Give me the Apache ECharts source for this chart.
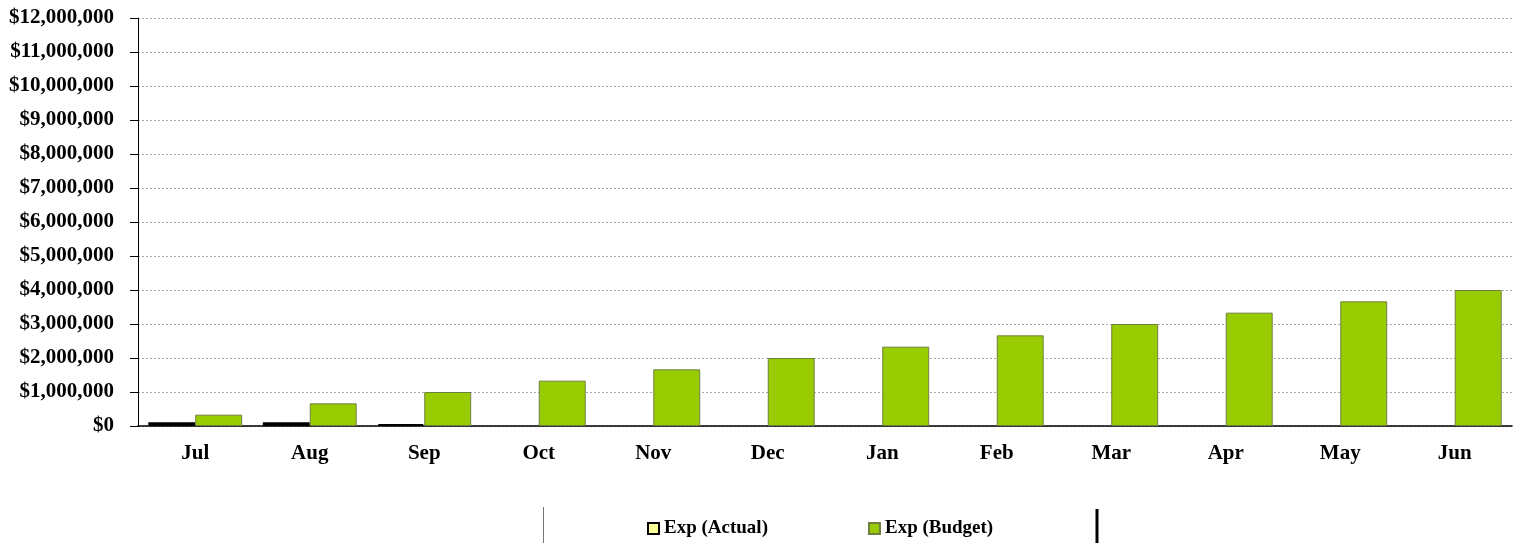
<!DOCTYPE html>
<html>
<head>
<meta charset="utf-8">
<script src="https://cdn.jsdelivr.net/npm/echarts@6/dist/echarts.min.js"></script>
<style>
  html, body { margin: 0; padding: 0; background: #fff; }
  #chart { width: 1522px; height: 543px; }
</style>
</head>
<body>
<div id="chart"></div>
<script>
const months = ['Jul', 'Aug', 'Sep', 'Oct', 'Nov', 'Dec', 'Jan', 'Feb', 'Mar', 'Apr', 'May', 'Jun']
const expActual = [110000, 110000, 55000, null, null, null, null, null, null, null, null, null]
const expBudget = [333333, 666667, 1000000, 1333333, 1666667, 2000000, 2333333, 2666667, 3000000, 3333333, 3666667, 4000000]

const font = 'Liberation Serif, Times New Roman, serif'

const chart = echarts.init(document.getElementById('chart'))

// 金额格式 $1,000,000
const money = v => '$' + v.toLocaleString('en-US')

chart.setOption({
  backgroundColor: '#fff',
  animation: false,
  grid: { left: 138, right: 10, top: 18, bottom: 117 },
  legend: {
    left: 642,
    top: 514,
    itemWidth: 11,
    itemHeight: 11,
    itemGap: 100,
    textStyle: { fontFamily: font, fontWeight: 'bold', fontSize: 19, color: '#000' },
    data: [{ name: 'Exp (Actual)', icon: 'rect' }, { name: 'Exp (Budget)', icon: 'rect' }]
  },
  xAxis: {
    type: 'category',
    data: months,
    axisLine: { lineStyle: { color: '#000', width: 1.5 } },
    axisTick: { length: 6, lineStyle: { color: '#999' } },
    axisLabel: { fontFamily: font, fontWeight: 'bold', fontSize: 21, color: '#000', margin: 17 }
  },
  yAxis: {
    type: 'value',
    min: 0, max: 12000000, interval: 1000000,
    axisLine: { show: true, lineStyle: { color: '#000' } },
    axisTick: { show: true, length: 8, lineStyle: { color: '#000' } },
    axisLabel: {
      fontFamily: font, fontWeight: 'bold', fontSize: 21, color: '#000', margin: 24,
      padding: [4, 0, 0, 0],
      formatter: money
    },
    splitLine: { lineStyle: { color: '#aaa', type: [2, 2] } }
  },
  series: [
    {
      name: 'Exp (Actual)',
      type: 'bar',
      data: expActual,
      barGap: '0%',
      barCategoryGap: '18%',
      itemStyle: { color: '#FFFF99', borderColor: '#000', borderWidth: 2 }
    },
    {
      name: 'Exp (Budget)',
      type: 'bar',
      data: expBudget,
      itemStyle: { color: '#99CC00', borderColor: '#6f7f40', borderWidth: 1 }
    }
  ],
  graphic: [
    { type: 'line', shape: { x1: 543.5, y1: 507, x2: 543.5, y2: 543 }, style: { stroke: '#777', lineWidth: 1 } },
    { type: 'line', shape: { x1: 1097, y1: 509, x2: 1097, y2: 543 }, style: { stroke: '#000', lineWidth: 3 } }
  ]
})
</script>
</body>
</html>
